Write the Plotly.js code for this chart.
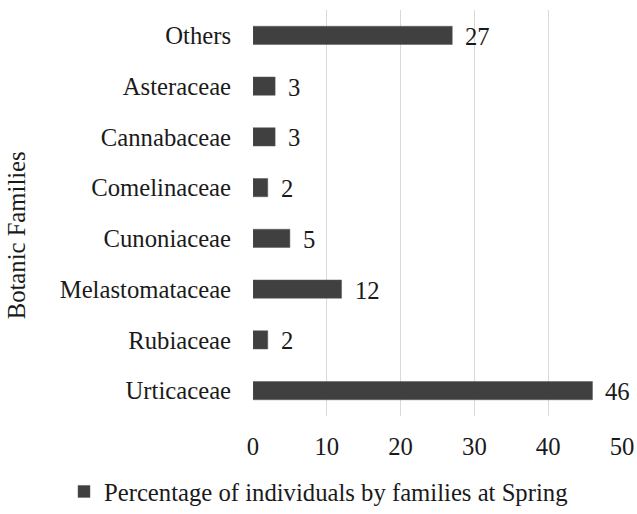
<!DOCTYPE html>
<html>
<head>
<meta charset="utf-8">
<script src="https://cdn.plot.ly/plotly-3.0.1.min.js"></script>
<style>html,body{margin:0;padding:0;background:#fff;}#chart{width:637px;height:514px;}</style>
</head>
<body>
<div id="chart"></div>
<script>
const families = ["Urticaceae", "Rubiaceae", "Melastomataceae", "Cunoniaceae", "Comelinaceae", "Cannabaceae", "Asteraceae", "Others"];
const percentages = [46, 2, 12, 5, 2, 3, 3, 27];
const seriesName = "Percentage of individuals by families at Spring";
const xTicks = [0, 10, 20, 30, 40, 50];

const FONT = "'Liberation Serif', 'Times New Roman', serif";
const FS = 24.7;
const TXT = "#1a1a1a";
const barColor = "#404040";

const trace = {
  type: "bar",
  orientation: "h",
  y: families,
  x: percentages,
  name: seriesName,
  marker: {color: barColor, line: {color: "#5a5a5a", width: 0.5}},
  showlegend: true,
  hoverinfo: "none"
};

const annotations = families.map((f, i) => ({
  x: percentages[i], y: f, xref: "x", yref: "y",
  text: String(percentages[i]), showarrow: false,
  xanchor: "left", xshift: 11, yshift: -1,
  font: {family: FONT, size: FS, color: TXT}
}));
annotations.push({
  text: "Botanic Families", xref: "paper", yref: "paper",
  x: 0, y: 0.445, xanchor: "center", yanchor: "middle",
  xshift: -237, textangle: -90, showarrow: false,
  font: {family: FONT, size: FS, color: TXT}
});

const layout = {
  width: 637, height: 514,
  margin: {l: 253, r: 15, t: 10, b: 98},
  paper_bgcolor: "#ffffff", plot_bgcolor: "#ffffff",
  font: {family: FONT, size: FS, color: TXT},
  bargap: 0.64,
  xaxis: {
    range: [0, 50], tickvals: xTicks, ticktext: xTicks.map(String),
    showgrid: true, gridcolor: "#d9d9d9", gridwidth: 1,
    zeroline: false, showline: false,
    ticks: "outside", ticklen: 8, tickcolor: "rgba(0,0,0,0)",
    tickfont: {family: FONT, size: FS, color: TXT},
    fixedrange: true
  },
  yaxis: {
    categoryorder: "array", categoryarray: families,
    showgrid: false, zeroline: false, showline: false,
    ticks: "outside", ticklen: 16, tickcolor: "rgba(0,0,0,0)",
    tickfont: {family: FONT, size: FS, color: TXT},
    fixedrange: true
  },
  legend: {
    orientation: "h", xref: "container", yref: "container",
    x: 0.5, xanchor: "center", y: 0.043, yanchor: "middle",
    font: {family: FONT, size: FS, color: TXT},
    itemwidth: 30
  },
  annotations: annotations,
  showlegend: true
};

Plotly.newPlot("chart", [trace], layout, {staticPlot: true, displayModeBar: false});
</script>
</body>
</html>
